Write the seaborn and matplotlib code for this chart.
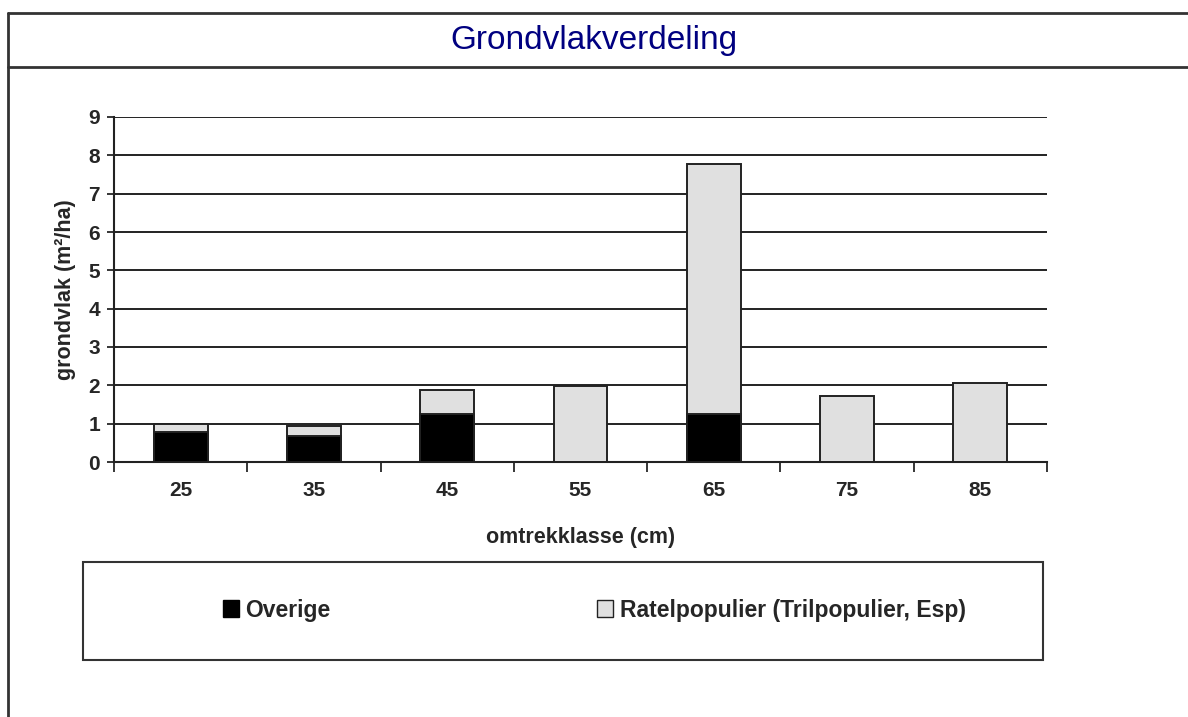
import numpy as np
import pandas as pd
import matplotlib
matplotlib.use("Agg")
import matplotlib.pyplot as plt
from matplotlib.patches import Patch
from matplotlib.lines import Line2D
import seaborn as sns

# data
klassen = ["25", "35", "45", "55", "65", "75", "85"]
overige = [0.79, 0.67, 1.26, 0.0, 1.26, 0.0, 0.0]
ratelpopulier = [0.19, 0.27, 0.61, 1.99, 6.51, 1.71, 2.07]
yticks = list(range(0, 10))

df = pd.DataFrame({"klasse": klassen, "Overige": overige,
                   "Ratelpopulier": ratelpopulier})
df["totaal"] = df["Overige"] + df["Ratelpopulier"]

sns.set_style("white")
plt.rcParams["font.family"] = ["Liberation Sans", "DejaVu Sans"]

W, H = 1188, 717
fig = plt.figure(figsize=(W / 100, H / 100), dpi=100)
ax = fig.add_axes([114 / W, 1 - 462 / H, (1047 - 114) / W, (462 - 117) / H])

grey = "#e0e0e0"
sns.barplot(data=df, x="klasse", y="totaal", color=grey, width=0.405,
            edgecolor="#222222", linewidth=1.4, saturation=1, ax=ax, zorder=3)
sns.barplot(data=df, x="klasse", y="Overige", color="black", width=0.405,
            edgecolor="#222222", linewidth=1.4, saturation=1, ax=ax, zorder=4)

ax.set_xlim(-0.5, len(klassen) - 0.5)
ax.set_ylim(0, 9)
ax.set_yticks(yticks)
for y in yticks[1:]:
    ax.axhline(y, color="#222222", lw=1.4, zorder=1)

ax.set_xticks(np.arange(len(klassen)))
ax.set_xticklabels(klassen, fontsize=15, fontweight="bold")
ax.set_yticklabels([str(v) for v in yticks], fontsize=15, fontweight="bold")
ax.tick_params(axis="x", length=0, pad=14)
ax.tick_params(axis="y", length=5, width=1.3, direction="out", pad=5, left=True)
# minor ticks on category boundaries
ax.set_xticks(np.arange(-0.5, len(klassen)), minor=True)
ax.tick_params(axis="x", which="minor", length=7, width=1.3, direction="out", bottom=True)

for s in ["top", "right"]:
    ax.spines[s].set_visible(False)
for s in ["left", "bottom"]:
    ax.spines[s].set_color("#222222")
    ax.spines[s].set_linewidth(1.5)

ax.set_xlabel("omtrekklasse (cm)", fontsize=15.5, fontweight="bold", labelpad=19)
ax.set_ylabel("grondvlak (m²/ha)", fontsize=15.5, fontweight="bold", labelpad=9)

# outer frame and title band
lc = "#333333"
fig.add_artist(Line2D([8 / W, 1], [1 - 13 / H, 1 - 13 / H], color=lc, lw=2))
fig.add_artist(Line2D([8 / W, 8 / W], [0, 1 - 13 / H], color=lc, lw=2))
fig.add_artist(Line2D([8 / W, 1], [1 - 67 / H, 1 - 67 / H], color=lc, lw=2))
fig.text(0.5, 1 - 41 / H, "Grondvlakverdeling", ha="center", va="center",
         fontsize=24, color="#000080")

# legend box
fig.add_artist(plt.Rectangle((83 / W, 1 - 660 / H), (1043 - 83) / W, (660 - 562) / H,
                             transform=fig.transFigure, fill=False,
                             edgecolor=lc, lw=1.5))
handles = [Patch(facecolor="black", edgecolor="black", label="Overige"),
           Patch(facecolor=grey, edgecolor="#222222",
                 label="Ratelpopulier (Trilpopulier, Esp)")]
fig.legend(handles=handles, loc="center left", ncol=2, frameon=False,
           bbox_to_anchor=(202 / W, 1 - 610 / H),
           prop={"size": 16.5, "weight": "bold"},
           handlelength=0.7, handleheight=0.7, handletextpad=0.3,
           columnspacing=11.6)

fig.savefig("out.png", dpi=100)
